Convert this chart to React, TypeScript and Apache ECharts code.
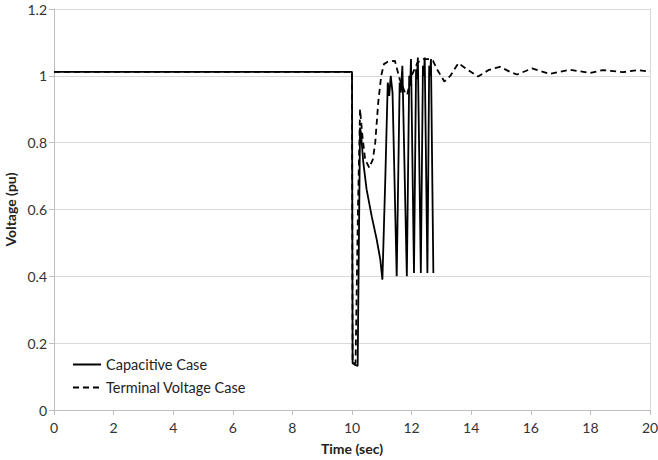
import React, { useEffect, useRef } from "react";
import * as echarts from "echarts";

const xTicks = { min: 0, max: 20, interval: 2 };
const yTicks = { min: 0, max: 1.2, interval: 0.2 };

const capacitiveCase: [number, number][] = [
  [0, 1.012], [10.0, 1.012], [10.02, 0.14], [10.1, 0.135], [10.19, 0.132],
  [10.27, 0.845], [10.3, 0.83], [10.38, 0.74], [10.49, 0.66], [10.66, 0.58],
  [10.83, 0.51], [10.95, 0.45], [11.02, 0.39], [11.12, 0.7], [11.2, 0.98],
  [11.25, 0.94], [11.3, 1.0], [11.36, 0.95], [11.5, 0.40], [11.6, 0.98],
  [11.64, 0.95], [11.69, 1.03], [11.84, 0.40], [11.92, 1.0], [11.95, 0.97],
  [11.98, 1.05], [12.08, 0.41], [12.15, 1.02], [12.18, 0.99], [12.21, 1.055],
  [12.31, 0.41], [12.38, 1.03], [12.41, 1.0], [12.44, 1.055], [12.53, 0.41],
  [12.59, 1.03], [12.62, 1.0], [12.65, 1.05], [12.73, 0.41],
];

const terminalVoltageCase: [number, number][] = [
  [0, 1.012], [10.0, 1.012], [10.02, 0.14], [10.12, 0.14], [10.2, 0.6],
  [10.27, 0.9], [10.35, 0.82], [10.44, 0.75], [10.58, 0.725], [10.7, 0.75],
  [10.78, 0.8], [10.88, 0.92], [10.98, 1.0], [11.07, 1.035], [11.2, 1.042],
  [11.44, 1.045], [11.6, 0.99], [11.78, 0.95], [11.85, 0.943], [12.0, 1.0],
  [12.2, 1.04], [12.4, 1.05], [12.6, 1.05], [12.72, 1.045], [12.85, 1.02],
  [13.1, 0.983], [13.3, 1.0], [13.57, 1.038], [13.85, 1.02], [14.23, 0.998],
  [14.6, 1.018], [14.97, 1.027], [15.3, 1.012], [15.54, 1.004], [16.04, 1.022],
  [16.64, 1.006], [17.32, 1.018], [17.99, 1.009], [18.42, 1.017], [19.09, 1.011],
  [19.6, 1.017], [20, 1.013],
];

const seriesNames = ["Capacitive Case", "Terminal Voltage Case"];

const FONT = "Lato, 'Open Sans', sans-serif";
const AXIS_GRAY = "#bfbfbf";
const GRID_GRAY = "#d9d9d9";

export default function App() {
  const ref = useRef<HTMLDivElement>(null);
  useEffect(() => {
    if (!ref.current) return;
    const chart = echarts.init(ref.current, undefined, { renderer: "svg" });
    chart.setOption({
      animation: false,
      backgroundColor: "#ffffff",
      textStyle: { fontFamily: FONT },
      grid: { left: 54, right: 8, top: 9, bottom: 50, containLabel: false, outerBoundsMode: "none" },
      legend: {
        left: 67,
        top: 352,
        orient: "vertical",
        itemWidth: 28,
        itemHeight: 14,
        itemGap: 8,
        data: seriesNames,
        itemStyle: { opacity: 0 },
        textStyle: { fontFamily: FONT, fontSize: 14.5, color: "#222", padding: [0, 0, 0, 0] },
      },
      xAxis: {
        type: "value",
        min: xTicks.min,
        max: xTicks.max,
        interval: xTicks.interval,
        name: "Time (sec)",
        nameLocation: "middle",
        nameGap: 31,
        nameTextStyle: { fontFamily: FONT, fontSize: 14, fontWeight: "bold", color: "#222" },
        axisLine: { show: true, lineStyle: { color: AXIS_GRAY } },
        axisTick: { show: true, length: 5, lineStyle: { color: AXIS_GRAY } },
        axisLabel: { fontFamily: FONT, fontSize: 14, color: "#333", margin: 10 },
        splitLine: { show: false },
      },
      yAxis: [
        {
          type: "value",
          min: yTicks.min,
          max: yTicks.max,
          interval: yTicks.interval,
          name: "Voltage (pu)",
          nameLocation: "middle",
          nameGap: 37,
          nameMoveOverlap: false,
          nameTextStyle: { fontFamily: FONT, fontSize: 14, fontWeight: "bold", color: "#222" },
          axisLine: { show: true, lineStyle: { color: AXIS_GRAY } },
          axisTick: { show: true, length: 5, lineStyle: { color: AXIS_GRAY } },
          axisLabel: { fontFamily: FONT, fontSize: 14, color: "#333", margin: 7 },
          splitLine: { show: true, lineStyle: { color: GRID_GRAY } },
        },
        {
          type: "value",
          position: "right",
          min: yTicks.min,
          max: yTicks.max,
          interval: yTicks.interval,
          axisLine: { show: true, lineStyle: { color: GRID_GRAY } },
          axisTick: { show: false },
          axisLabel: { show: false },
          splitLine: { show: false },
        },
      ],
      series: [
        {
          name: seriesNames[0],
          type: "line",
          data: capacitiveCase,
          showSymbol: false,
          symbol: "none",
          lineStyle: { color: "#000", width: 1.8, type: "solid" },
          itemStyle: { color: "#000" },
          z: 3,
        },
        {
          name: seriesNames[1],
          type: "line",
          data: terminalVoltageCase,
          showSymbol: false,
          symbol: "none",
          lineStyle: { color: "#000", width: 1.8, type: [6, 4] },
          itemStyle: { color: "#000" },
          z: 2,
        },
      ],
    });
    return () => chart.dispose();
  }, []);
  return (
    <div
      ref={ref}
      style={{ position: "fixed", left: 0, top: 0, width: 658, height: 460, background: "#fff" }}
    />
  );
}
